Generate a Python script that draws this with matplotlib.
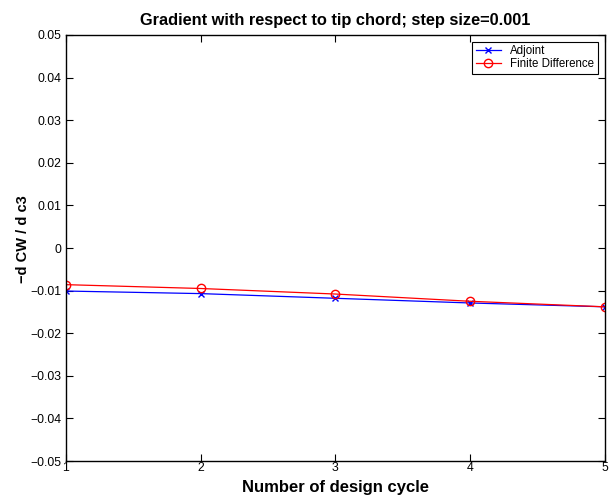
import matplotlib
matplotlib.use("Agg")
import matplotlib.pyplot as plt

plt.rcParams['font.family'] = ['Liberation Sans', 'DejaVu Sans']

cycles = [1, 2, 3, 4, 5]
adjoint = [-0.0101, -0.0107, -0.0118, -0.0129, -0.0138]
finite_diff = [-0.0086, -0.0095, -0.0108, -0.0125, -0.0138]

fig = plt.figure(figsize=(6.09, 4.99), dpi=100)
ax = fig.add_axes([0.108, 0.076, 0.885, 0.854])

ax.plot(cycles, adjoint, color='blue', marker='x', markersize=5, linewidth=0.9,
        label='Adjoint')
ax.plot(cycles, finite_diff, color='red', marker='o', markersize=6, markerfacecolor='none',
        linewidth=0.9, label='Finite Difference')

ax.set_xlim(1, 5)
ax.set_ylim(-0.05, 0.05)
ax.set_xticks(cycles)
ax.set_yticks([-0.05, -0.04, -0.03, -0.02, -0.01, 0, 0.01, 0.02, 0.03, 0.04, 0.05])
ax.set_yticklabels(['\u22120.05', '\u22120.04', '\u22120.03', '\u22120.02', '\u22120.01', '0',
                    '0.01', '0.02', '0.03', '0.04', '0.05'])
ax.tick_params(direction='in', top=True, right=True, labelsize=8.8, length=5, pad=3)
ax.tick_params(axis='x', pad=1)
for s in ax.spines.values():
    s.set_linewidth(1.0)

ax.set_title('Gradient with respect to tip chord; step size=0.001', fontsize=11.8,
             fontweight='bold', pad=7)
ax.set_xlabel('Number of design cycle', fontsize=12, fontweight='bold', labelpad=4)
ax.set_ylabel('\u2212d CW / d c3', fontsize=10.5, fontweight='bold')
ax.yaxis.set_label_coords(-0.067, 0.52)

leg = ax.legend(loc='upper right', fontsize=8.3, fancybox=False, framealpha=1,
                edgecolor='black', borderpad=0.3, labelspacing=0.1, handlelength=2.2,
                borderaxespad=0.6)
leg.get_frame().set_linewidth(0.8)

fig.savefig('out.png', dpi=100)
